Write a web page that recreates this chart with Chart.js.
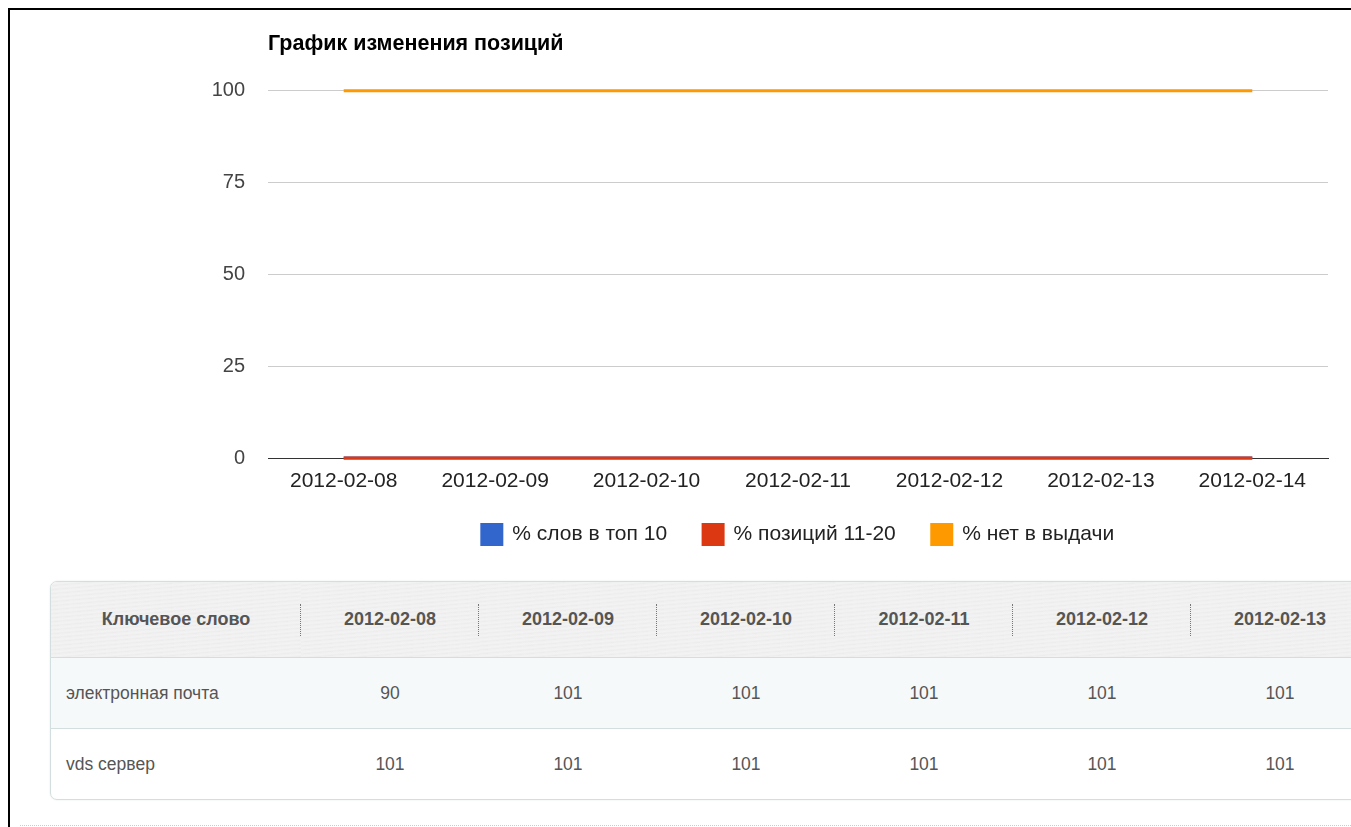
<!DOCTYPE html>
<html>
<head>
<meta charset="utf-8">
<script src="https://cdn.jsdelivr.net/npm/chart.js@4"></script>
<style>
    html, body { margin: 0; padding: 0; background: #fff; overflow: hidden; }
    body { width: 1351px; height: 827px; position: relative; font-family: Arial, "Liberation Sans", sans-serif; }
    .frame { position: absolute; left: 8px; top: 8px; width: 1400px; height: 900px; border-top: 2px solid #000; border-left: 2px solid #000; }
    #chartBox { position: absolute; left: 0; top: 0; width: 1351px; height: 565px; }
    .tableWrap { position: absolute; left: 50px; top: 581px; width: 1400px; border: 1px solid #d3dede; border-radius: 7px; overflow: hidden; box-shadow: 0 0 2px #e4eaea; }
    table { border-collapse: collapse; width: 1400px; table-layout: fixed; }
    th { height: 73px; font-size: 18px; font-weight: bold; color: #555; text-align: center; position: relative;
         background: repeating-linear-gradient(175deg, #efefef 0px, #f3f3f3 2px, #ececec 4px); }
    th .sep { position: absolute; right: 0; top: 22px; height: 32px; border-right: 1px dotted #777; }
    td { height: 68px; font-size: 17.5px; color: #555; text-align: center; border-top: 1px solid #d3dede; }
    td.kw { text-align: left; padding-left: 15px; }
    tr.odd td { background: #f6f9fa; }
    .dots { position: absolute; left: 20px; top: 825px; width: 1331px; border-top: 1px dotted #ccc; }
</style>
</head>
<body>
<div class="frame"></div>
<div id="chartBox"><canvas id="posChart"></canvas></div>
<div class="tableWrap"><table id="posTable"></table></div>
<div class="dots"></div>
<script>
// chart data
const dates = ['2012-02-08', '2012-02-09', '2012-02-10', '2012-02-11', '2012-02-12', '2012-02-13', '2012-02-14'];
const top10 = [0, 0, 0, 0, 0, 0, 0];
const pos11to20 = [0, 0, 0, 0, 0, 0, 0];
const notInResults = [100, 100, 100, 100, 100, 100, 100];
const yTicks = [0, 25, 50, 75, 100];

// table data
const tableDates = ['2012-02-08', '2012-02-09', '2012-02-10', '2012-02-11', '2012-02-12', '2012-02-13'];
const keywords = ['электронная почта', 'vds сервер'];
const keywordPositions = [
    [90, 101, 101, 101, 101, 101],
    [101, 101, 101, 101, 101, 101]
];

const fontFamily = 'Arial, "Liberation Sans", sans-serif';

function buildTable() {
    const table = document.getElementById('posTable');
    let html = '<colgroup><col style="width:250px">';
    tableDates.forEach(() => { html += '<col style="width:178px">'; });
    html += '<col></colgroup><tr><th>Ключевое слово<span class="sep"></span></th>';
    tableDates.forEach((d, i) => {
        html += '<th>' + d + (i < tableDates.length - 1 ? '<span class="sep"></span>' : '') + '</th>';
    });
    html += '<th></th></tr>';
    keywords.forEach((kw, r) => {
        html += '<tr class="' + (r % 2 === 0 ? 'odd' : 'even') + '"><td class="kw">' + kw + '</td>';
        keywordPositions[r].forEach(v => { html += '<td>' + v + '</td>'; });
        html += '<td></td></tr>';
    });
    table.innerHTML = html;
}

buildTable();

const ctx = document.getElementById('posChart').getContext('2d');
new Chart(ctx, {
    type: 'line',
    data: {
        labels: dates,
        datasets: [{
            label: '% слов в топ 10',
            data: top10,
            borderColor: '#3366cc',
            backgroundColor: '#3366cc',
            borderWidth: 3,
            pointRadius: 0,
            clip: 4,
            order: 1
        }, {
            label: '% позиций 11-20',
            data: pos11to20,
            borderColor: '#dc3912',
            backgroundColor: '#dc3912',
            borderWidth: 3,
            pointRadius: 0,
            clip: 4,
            order: 0
        }, {
            label: '% нет в выдачи',
            data: notInResults,
            borderColor: '#ff9900',
            backgroundColor: '#ff9900',
            borderWidth: 3,
            pointRadius: 0,
            clip: 4,
            order: 2
        }]
    },
    options: {
        responsive: true,
        maintainAspectRatio: false,
        animation: false,
        layout: { padding: { top: 31, right: 23, bottom: 10, left: 0 } },
        plugins: {
            title: {
                display: true,
                text: 'График изменения позиций',
                align: 'start',
                fullSize: false,
                color: '#000',
                font: { family: fontFamily, size: 21.5, weight: 'bold' },
                padding: { top: 0, bottom: 34 }
            },
            legend: {
                position: 'bottom',
                fullSize: false,
                labels: {
                    color: '#222',
                    font: { family: fontFamily, size: 21 },
                    boxWidth: 20,
                    boxHeight: 20,
                    padding: 36,
                    sort: (a, b) => a.datasetIndex - b.datasetIndex
                }
            },
            tooltip: { enabled: false }
        },
        scales: {
            x: {
                offset: true,
                grid: { display: false, drawTicks: false },
                border: { display: true, color: '#333', width: 1 },
                ticks: {
                    color: '#222',
                    padding: 11,
                    maxRotation: 0,
                    font: { family: fontFamily, size: 21 }
                },
                afterFit: scale => { scale.height = 30; }
            },
            y: {
                min: 0,
                max: 100,
                afterBuildTicks: scale => { scale.ticks = yTicks.map(v => ({ value: v })); },
                grid: { color: '#cccccc', drawTicks: false },
                border: { display: false },
                ticks: {
                    color: '#444',
                    padding: 23,
                    font: { family: fontFamily, size: 20 }
                },
                afterFit: scale => { scale.width = 268; }
            }
        }
    }
});
</script>
</body>
</html>
